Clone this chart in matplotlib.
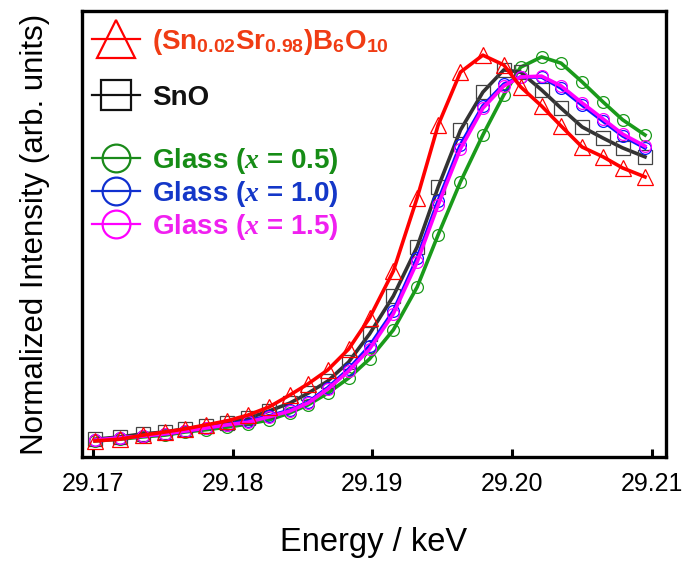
import matplotlib
matplotlib.use("Agg")
from matplotlib import pyplot as plt
from matplotlib.lines import Line2D

plt.rcParams['font.family'] = ['Liberation Sans', 'DejaVu Sans']
plt.rcParams['mathtext.fontset'] = 'custom'
plt.rcParams['mathtext.rm'] = 'Liberation Sans:bold'
plt.rcParams['mathtext.bf'] = 'Liberation Sans:bold'
plt.rcParams['mathtext.it'] = 'Liberation Serif:italic:bold'

# energy grid (keV)
energy = [29.17016, 29.17195, 29.1736, 29.17517, 29.1766, 29.1781, 29.1796,
          29.1811, 29.1826, 29.1841, 29.1854, 29.1868, 29.1883, 29.1898,
          29.1915, 29.1932, 29.1947, 29.1963, 29.1979, 29.1994, 29.2006,
          29.2021, 29.2035, 29.2050, 29.2065, 29.2079, 29.2095]

# normalized intensities (arb. units)
snsr = [0.036, 0.040, 0.049, 0.056, 0.063, 0.072, 0.081, 0.094, 0.112, 0.139,
        0.164, 0.195, 0.242, 0.312, 0.417, 0.581, 0.744, 0.863, 0.901, 0.879,
        0.830, 0.787, 0.742, 0.695, 0.673, 0.648, 0.628]
sno = [0.040, 0.045, 0.052, 0.056, 0.063, 0.070, 0.076, 0.087, 0.103, 0.121,
       0.143, 0.170, 0.213, 0.276, 0.361, 0.471, 0.605, 0.733, 0.818, 0.868,
       0.863, 0.823, 0.782, 0.740, 0.715, 0.693, 0.673]
glass05 = [0.036, 0.040, 0.045, 0.049, 0.056, 0.061, 0.067, 0.074, 0.083, 0.099,
           0.117, 0.143, 0.177, 0.220, 0.285, 0.381, 0.498, 0.617, 0.722, 0.812,
           0.874, 0.897, 0.883, 0.841, 0.796, 0.756, 0.722]
glass10 = [0.038, 0.043, 0.047, 0.052, 0.058, 0.065, 0.072, 0.081, 0.092, 0.105,
           0.123, 0.155, 0.197, 0.249, 0.327, 0.446, 0.574, 0.700, 0.787, 0.836,
           0.852, 0.852, 0.827, 0.789, 0.753, 0.720, 0.693]
glass15 = [0.038, 0.043, 0.047, 0.052, 0.058, 0.065, 0.072, 0.078, 0.090, 0.103,
           0.121, 0.152, 0.193, 0.242, 0.321, 0.437, 0.565, 0.691, 0.782, 0.832,
           0.852, 0.854, 0.832, 0.794, 0.758, 0.724, 0.697]

fig = plt.figure(figsize=(6.85, 5.7), dpi=100)
ax = fig.add_axes([82/685, 113/570, 584/685, 446/570])

lw = 2.6
ax.plot(energy, glass05, '-o', color='#1a9a1a', lw=lw, ms=8.5, mfc='none', mew=0.9)
ax.plot(energy, sno, '-', color='#333333', lw=lw)
ax.plot(energy, sno, 's', color='#444444', ms=10.5, mfc='none', mew=0.9)
ax.plot(energy, glass10, '-o', color='#0a14ff', lw=lw, ms=8.5, mfc='none', mew=0.9)
ax.plot(energy, glass15, '-o', color='#ff00ff', lw=lw, ms=8.5, mfc='none', mew=0.9)
ax.plot(energy, snsr, '-^', color='#ff0000', lw=lw, ms=11.5, mfc='none', mew=0.9)

ax.set_xlim(29.16923, 29.2110)
ax.set_ylim(0, 1)
ax.set_xticks([29.17, 29.18, 29.19, 29.20, 29.21])
ax.set_xticklabels(['29.17', '29.18', '29.19', '29.20', '29.21'])
ax.set_yticks([])
ax.tick_params(axis='x', direction='in', length=6, width=2.2, pad=11,
               labelsize=18)
for sp in ax.spines.values():
    sp.set_linewidth(2.4)

ax.set_xlabel('Energy / keV', fontsize=23.5, labelpad=22)
ax.set_ylabel('Normalized Intensity (arb. units)', fontsize=22.5, labelpad=23)

fs = 20
common = dict(frameon=False, borderpad=0, borderaxespad=0,
              handlelength=1.73, handletextpad=0.43, loc='center left',
              prop={'weight': 'bold', 'size': fs})

h1 = [Line2D([], [], color='#ff0000', lw=1.6, marker='^', ms=28, mfc='none', mew=1.6)]
leg1 = ax.legend(h1, ['(Sn$_{0.02}$Sr$_{0.98}$)B$_{6}$O$_{10}$'],
                 bbox_to_anchor=(0.017, 0.930), labelcolor=['#f03c14'], **common)
ax.add_artist(leg1)

h2 = [Line2D([], [], color='#111111', lw=1.6, marker='s', ms=22, mfc='none', mew=1.6)]
leg2 = ax.legend(h2, ['SnO'], bbox_to_anchor=(0.017, 0.805),
                 labelcolor=['#111111'], **common)
ax.add_artist(leg2)

h3 = [Line2D([], [], color=c, lw=1.6, marker='o', ms=20, mfc='none', mew=1.6)
      for c in ['#1a8a1a', '#1030d0', '#ff00ff']]
leg3 = ax.legend(h3, ['Glass ($x$ = 0.5)', 'Glass ($x$ = 1.0)', 'Glass ($x$ = 1.5)'],
                 bbox_to_anchor=(0.017, 0.590), labelspacing=0.1,
                 labelcolor=['#168c16', '#1437c8', '#f020f0'], **common)

fig.savefig('out.png', dpi=100)
